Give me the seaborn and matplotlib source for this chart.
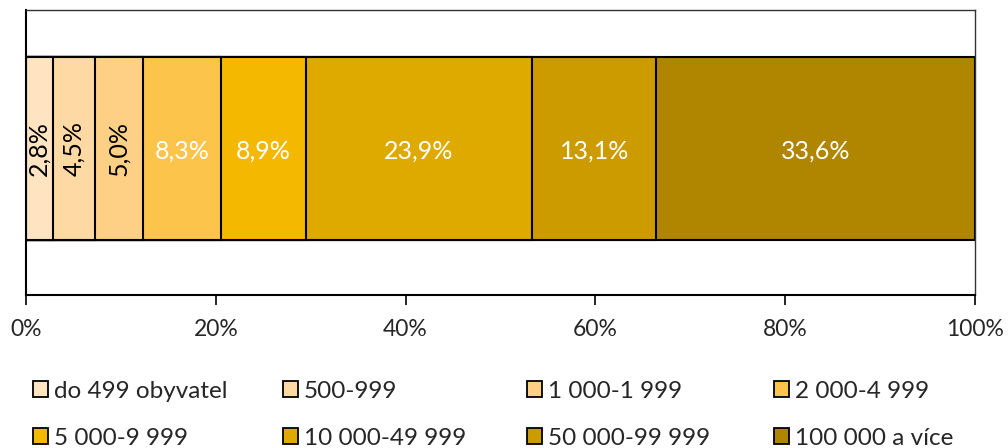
import numpy as np
import pandas as pd
import matplotlib
matplotlib.use("Agg")
import matplotlib.pyplot as plt
import seaborn as sns
from matplotlib.patches import Patch

categories = ["do 499 obyvatel", "500-999", "1 000-1 999", "2 000-4 999",
              "5 000-9 999", "10 000-49 999", "50 000-99 999", "100 000 a více"]
values = [2.8, 4.5, 5.0, 8.3, 8.9, 23.9, 13.1, 33.6]
labels = ["2,8%", "4,5%", "5,0%", "8,3%", "8,9%", "23,9%", "13,1%", "33,6%"]
colors = ["#FFE4C2", "#FED9A3", "#FDD085", "#FDC44B", "#F5B800",
          "#DEAA00", "#CC9B00", "#B08600"]
xticks = [0, 20, 40, 60, 80, 100]
xticklabels = ["0%", "20%", "40%", "60%", "80%", "100%"]

sns.set_style("white")
plt.rcParams['font.family'] = ['Lato', 'DejaVu Sans']

W, H = 1008, 448
fig = plt.figure(figsize=(W / 100, H / 100), dpi=100)
ax = fig.add_axes([26 / W, 1 - 295 / H, (975 - 26) / W, (295 - 10) / H])

total = sum(values)
scale = 100.0 / total
cum = np.cumsum(values) * scale
starts = cum - np.array(values) * scale

# draw cumulative bars from largest to smallest so each overlays the previous
for i in range(len(values) - 1, -1, -1):
    df = pd.DataFrame({"y": ["s"], "x": [cum[i]]})
    sns.barplot(data=df, x="x", y="y", orient="h", color=colors[i],
                saturation=1, width=0.645, edgecolor="black", linewidth=1.5,
                ax=ax)

for i, v in enumerate(values):
    cx = starts[i] + v * scale / 2
    if i < 3:
        ax.text(cx, 0.0, labels[i], rotation=90, ha="center", va="center",
                color="black", fontsize=18)
    else:
        ax.text(cx, 0.01, labels[i], ha="center", va="center",
                color="white", fontsize=18)

ax.set_xlim(0, 100)
ax.set_ylim(0.514, -0.486)
ax.set_xticks(xticks)
ax.set_xticklabels(xticklabels, fontsize=16.5)
ax.set_yticks([])
ax.set_xlabel("")
ax.set_ylabel("")
ax.tick_params(axis="x", direction="out", length=7, width=1.2, color="black",
               pad=10, bottom=True)
for side in ["left", "bottom"]:
    ax.spines[side].set_color("black")
    ax.spines[side].set_linewidth(1.5)
for side in ["top", "right"]:
    ax.spines[side].set_color("#333333")
    ax.spines[side].set_linewidth(1.0)

# legend entries laid out row-major in 2 rows x 4 columns
col_x = [33, 283, 527, 774]
row_y = [391, 438]
for i, (c, name) in enumerate(zip(colors, categories)):
    r, k = divmod(i, 4)
    h = Patch(facecolor=c, edgecolor="black", linewidth=1.3)
    fig.legend([h], [name], loc="center left",
               bbox_to_anchor=(col_x[k] / W, 1 - row_y[r] / H),
               frameon=False, fontsize=17.5, handlelength=0.6,
               handleheight=0.65, handletextpad=0.25, borderpad=0,
               borderaxespad=0)

fig.savefig("out.png", dpi=100)
